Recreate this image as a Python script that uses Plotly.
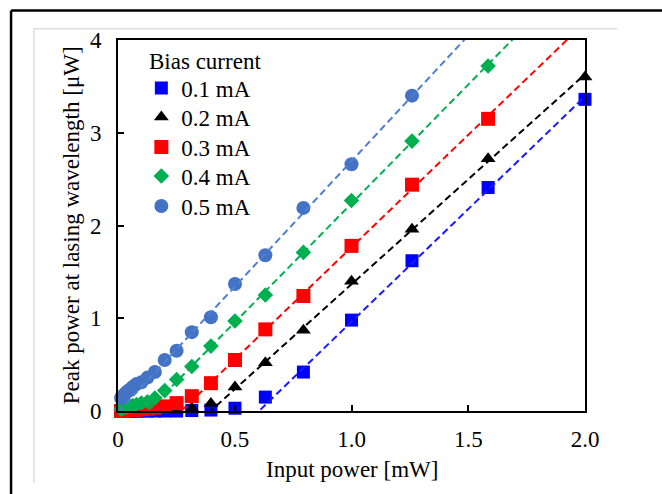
import numpy as np
import plotly.graph_objects as go

# ---------------- data ----------------
input_power = [0.013, 0.016, 0.020, 0.025, 0.032, 0.040, 0.050, 0.063, 0.079, 0.100,
               0.126, 0.158, 0.200, 0.251, 0.316, 0.398, 0.501, 0.631, 0.794, 1.000,
               1.259, 1.585, 2.000]

peak_01 = [0, 0, 0, 0, 0, 0, 0, 0, 0, 0, 0, 0, 0, 0.0, 0.005, 0.01, 0.03, 0.15, 0.42, 0.98,
           1.62, 2.41, 3.36]
peak_02 = [0, 0, 0, 0, 0, 0, 0, 0, 0, 0, 0, 0, 0.005, 0.01, 0.03, 0.08, 0.26, 0.52, 0.87, 1.40,
           1.96, 2.72, 3.60]
peak_03 = [0, 0, 0, 0.005, 0.005, 0.01, 0.01, 0.01, 0.015, 0.02, 0.025, 0.035, 0.05, 0.085,
           0.16, 0.30, 0.55, 0.88, 1.24, 1.78, 2.44, 3.15, None]
peak_04 = [0.02, 0.025, 0.03, 0.035, 0.04, 0.045, 0.05, 0.06, 0.07, 0.085, 0.10, 0.14, 0.22,
           0.34, 0.48, 0.70, 0.97, 1.25, 1.71, 2.27, 2.91, 3.72, None]
peak_05 = [0.14, 0.15, 0.16, 0.17, 0.19, 0.21, 0.23, 0.26, 0.29, 0.31, 0.36, 0.42, 0.55, 0.65,
           0.85, 1.01, 1.37, 1.68, 2.19, 2.66, 3.40, None, None]

series_names = ["0.1 mA", "0.2 mA", "0.3 mA", "0.4 mA", "0.5 mA"]
series_values = [peak_01, peak_02, peak_03, peak_04, peak_05]
legend_title = "Bias current"

x_tickvals = [0, 0.5, 1.0, 1.5, 2.0]
x_ticktext = ["0", "0.5", "1.0", "1.5", "2.0"]
y_tickvals = [0, 1, 2, 3, 4]
y_ticktext = ["0", "1", "2", "3", "4"]

# ---------------- styles ----------------
marker_colors = ["#0000FF", "#000000", "#FF0000", "#00B050", "#4472C4"]
line_colors = ["#1a1aff", "#000000", "#FF0000", "#00B050", "#4F7FD0"]
symbols = ["square", "triangle-up", "square", "diamond", "circle"]
sizes = [13, 13, 14, 12, 14]
legend_rows_y = [0.8706, 0.7925, 0.7116, 0.6334, 0.5526]
legend_x = 0.050
FONT = "Liberation Serif, Times New Roman, serif"

fig = go.Figure()

legend_ids = ["legend" if i == 0 else f"legend{i + 1}" for i in range(len(series_names))]

for name, vals, mc, sym, sz, lid in zip(series_names, series_values, marker_colors,
                                        symbols, sizes, legend_ids):
    fig.add_trace(go.Scatter(
        x=input_power, y=vals, mode="markers", name=name, legend=lid,
        marker=dict(symbol=sym, size=sz, color=mc, line=dict(width=0)),
        cliponaxis=False,
    ))

# linear trend lines fitted to the linear part of each series
x_line = np.array([0.0, 2.0])
for vals, lc in zip(series_values, line_colors):
    xs = np.array([x for x, y in zip(input_power, vals) if y is not None and y >= 0.4])
    ys = np.array([y for y in vals if y is not None and y >= 0.4])
    k, b = np.polyfit(xs, ys, 1)
    fig.add_trace(go.Scatter(
        x=x_line, y=k * x_line + b, mode="lines", showlegend=False, hoverinfo="skip",
        line=dict(color=lc, width=2, dash="7px,4px"),
    ))

legend_layouts = {}
for lid, ly in zip(legend_ids, legend_rows_y):
    legend_layouts[lid] = dict(
        x=legend_x, y=ly, xanchor="left", yanchor="middle",
        bgcolor="rgba(0,0,0,0)", borderwidth=0,
        font=dict(family=FONT, size=23, color="black"),
        itemsizing="trace",
    )

fig.update_layout(
    width=662, height=494,
    margin=dict(l=118, r=77, t=40, b=83),
    paper_bgcolor="white", plot_bgcolor="white",
    font=dict(family=FONT, size=23, color="black"),
    showlegend=True,
    **legend_layouts,
    xaxis=dict(
        range=[0, 2.0], tickvals=x_tickvals, ticktext=x_ticktext,
        ticks="inside", ticklen=6, tickwidth=2, tickcolor="black",
        showline=True, linecolor="black", linewidth=2, mirror=True,
        showgrid=False, zeroline=False, ticklabelstandoff=6,
        tickfont=dict(family=FONT, size=23),
    ),
    yaxis=dict(
        range=[0, 4.0], tickvals=y_tickvals, ticktext=y_ticktext,
        ticks="inside", ticklen=6, tickwidth=2, tickcolor="black",
        showline=True, linecolor="black", linewidth=2, mirror=True,
        showgrid=False, zeroline=False, ticklabelstandoff=10,
        tickfont=dict(family=FONT, size=23),
    ),
    annotations=[
        dict(text=legend_title, xref="paper", yref="paper",
             x=0.062, y=0.942, xanchor="left", yanchor="middle", showarrow=False,
             font=dict(family=FONT, size=23)),
        dict(text="Input power [mW]", xref="paper", yref="paper",
             x=0.5, y=-0.158, xanchor="center", yanchor="middle", showarrow=False,
             font=dict(family=FONT, size=23)),
        dict(text="Peak power at lasing wavelength [μW]", xref="paper", yref="paper",
             x=-0.099, y=0.5, xanchor="center", yanchor="middle", showarrow=False,
             textangle=-90, font=dict(family=FONT, size=23)),
    ],
    shapes=[
        # outer black frame (top and left)
        dict(type="line", xref="paper", yref="paper", x0=-0.229, x1=1.2, y0=1.0795, y1=1.0795,
             line=dict(color="black", width=2.5)),
        dict(type="line", xref="paper", yref="paper", x0=-0.229, x1=-0.229, y0=1.0795, y1=-0.25,
             line=dict(color="black", width=2.5)),
        # light grey inner frame
        dict(type="line", xref="paper", yref="paper", x0=-0.180, x1=1.069, y0=1.030, y1=1.030,
             line=dict(color="#cccccc", width=1)),
        dict(type="line", xref="paper", yref="paper", x0=-0.180, x1=-0.180, y0=1.030, y1=-0.194,
             line=dict(color="#cccccc", width=1)),
    ],
)

fig.write_html("out.html", config={"displayModeBar": False},
               post_script="document.body.style.margin='0px';")
